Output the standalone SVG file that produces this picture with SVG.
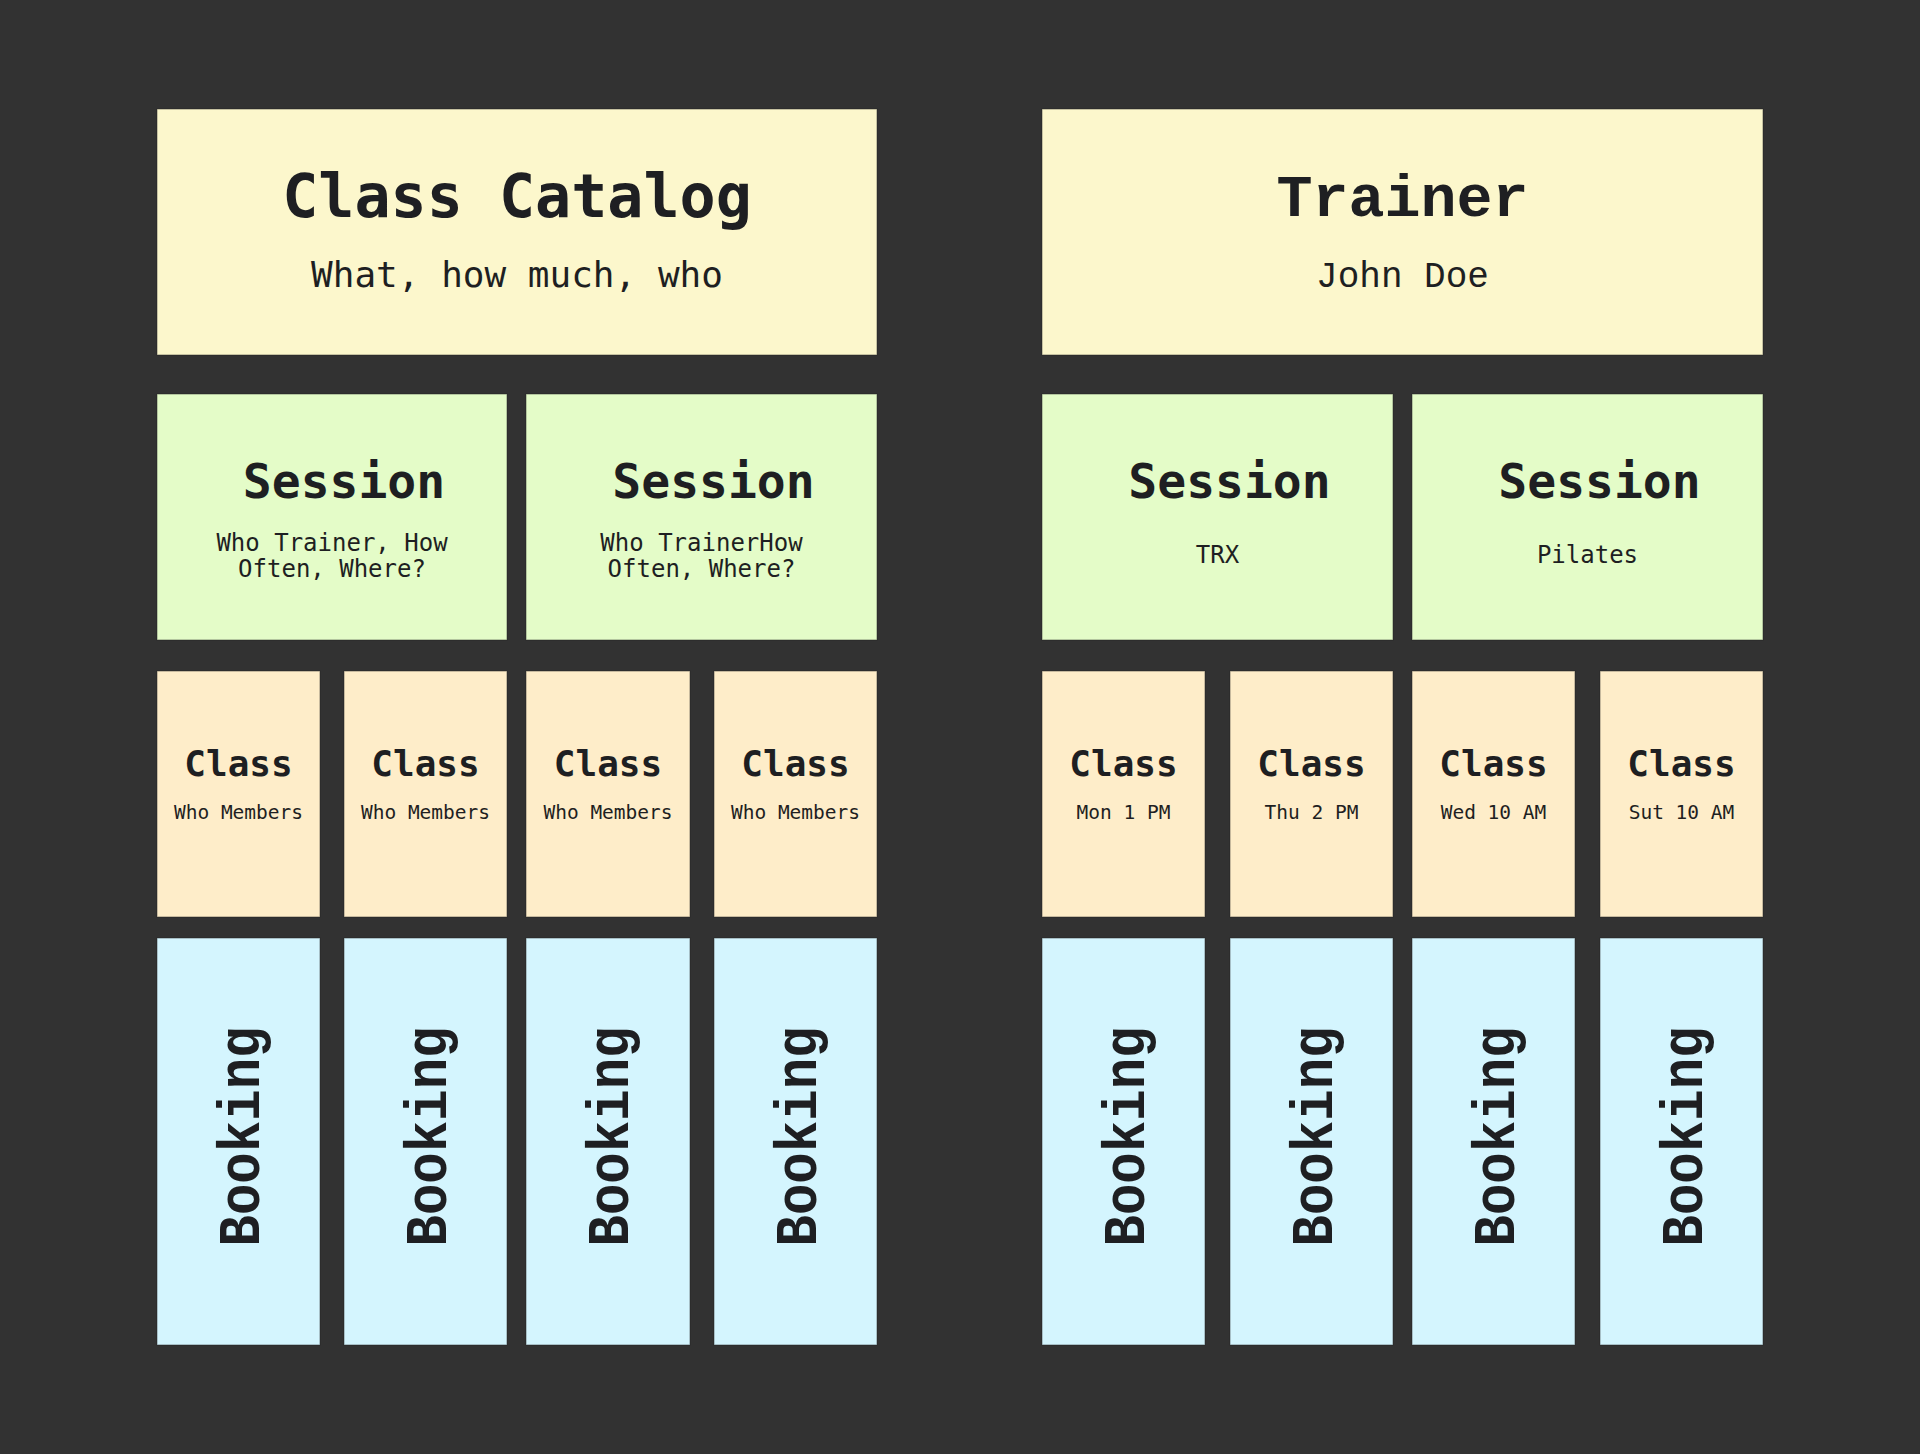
<svg xmlns="http://www.w3.org/2000/svg" width="1920" height="1454" viewBox="0 0 1920 1454">
<style>
.bx{stroke:#1f1f1f;stroke-opacity:0.5;stroke-width:1}
.top{fill:#fcf7cc}
.ses{fill:#e4fcc8}
.cls{fill:#feedc9}
.bk{fill:#d4f5fe}
text{fill:#1e1f22;text-anchor:middle}
.sans{font-family:"DejaVu Sans Mono","Liberation Mono",monospace}
.cour{font-family:"Liberation Mono","Courier New",monospace}
.t1{font-size:60px;font-weight:bold}
.s1{font-size:36px}
.t2{font-size:48px;font-weight:bold}
.s2{font-size:24px}
.t3{font-size:36px;font-weight:bold}
.s3{font-size:19.5px}
.t4{font-size:59px;font-weight:bold}
</style>
<rect width="1920" height="1454" fill="#323232"/>
<g id="catalog">
<rect class="bx top" x="157" y="109" width="720" height="246"/>
<text class="sans t1" x="517" y="217">Class Catalog</text>
<text class="sans s1" x="517" y="287">What, how much, who</text>
</g>
<g id="trainer">
<rect class="bx top" x="1042" y="109" width="721" height="246"/>
<text class="cour t1" x="1402.5" y="216">Trainer</text>
<text class="cour s1" x="1402.5" y="287">John Doe</text>
</g>
<g id="session-l1">
<rect class="bx ses" x="157" y="394" width="350" height="246"/>
<text class="sans t2" x="344" y="498">Session</text>
<text class="sans s2" x="332" y="551">Who Trainer, How</text>
<text class="sans s2" x="332" y="577">Often, Where?</text>
</g>
<g id="session-l2">
<rect class="bx ses" x="526" y="394" width="351" height="246"/>
<text class="sans t2" x="713.5" y="498">Session</text>
<text class="sans s2" x="701.5" y="551">Who TrainerHow</text>
<text class="sans s2" x="701.5" y="577">Often, Where?</text>
</g>
<g id="session-r1">
<rect class="bx ses" x="1042" y="394" width="351" height="246"/>
<text class="sans t2" x="1229.5" y="498">Session</text>
<text class="sans s2" x="1217.5" y="563">TRX</text>
</g>
<g id="session-r2">
<rect class="bx ses" x="1412" y="394" width="351" height="246"/>
<text class="sans t2" x="1599.5" y="498">Session</text>
<text class="sans s2" x="1587.5" y="563">Pilates</text>
</g>
<g id="class-l1">
<rect class="bx cls" x="157" y="671" width="163" height="246"/>
<text class="sans t3" x="238.5" y="776">Class</text>
<text class="sans s3" x="238.5" y="819">Who Members</text>
</g>
<g id="class-l2">
<rect class="bx cls" x="344" y="671" width="163" height="246"/>
<text class="sans t3" x="425.5" y="776">Class</text>
<text class="sans s3" x="425.5" y="819">Who Members</text>
</g>
<g id="class-l3">
<rect class="bx cls" x="526" y="671" width="164" height="246"/>
<text class="sans t3" x="608" y="776">Class</text>
<text class="sans s3" x="608" y="819">Who Members</text>
</g>
<g id="class-l4">
<rect class="bx cls" x="714" y="671" width="163" height="246"/>
<text class="sans t3" x="795.5" y="776">Class</text>
<text class="sans s3" x="795.5" y="819">Who Members</text>
</g>
<g id="class-r1">
<rect class="bx cls" x="1042" y="671" width="163" height="246"/>
<text class="sans t3" x="1123.5" y="776">Class</text>
<text class="sans s3" x="1123.5" y="819">Mon 1 PM</text>
</g>
<g id="class-r2">
<rect class="bx cls" x="1230" y="671" width="163" height="246"/>
<text class="sans t3" x="1311.5" y="776">Class</text>
<text class="sans s3" x="1311.5" y="819">Thu 2 PM</text>
</g>
<g id="class-r3">
<rect class="bx cls" x="1412" y="671" width="163" height="246"/>
<text class="sans t3" x="1493.5" y="776">Class</text>
<text class="sans s3" x="1493.5" y="819">Wed 10 AM</text>
</g>
<g id="class-r4">
<rect class="bx cls" x="1600" y="671" width="163" height="246"/>
<text class="sans t3" x="1681.5" y="776">Class</text>
<text class="sans s3" x="1681.5" y="819">Sut 10 AM</text>
</g>
<g id="booking-l1">
<rect class="bx bk" x="157" y="938" width="163" height="407"/>
<text class="cour t4" transform="translate(258.5 1136.5) rotate(-90)" textLength="220" lengthAdjust="spacingAndGlyphs">Booking</text>
</g>
<g id="booking-l2">
<rect class="bx bk" x="344" y="938" width="163" height="407"/>
<text class="cour t4" transform="translate(445.5 1136.5) rotate(-90)" textLength="220" lengthAdjust="spacingAndGlyphs">Booking</text>
</g>
<g id="booking-l3">
<rect class="bx bk" x="526" y="938" width="164" height="407"/>
<text class="cour t4" transform="translate(628 1136.5) rotate(-90)" textLength="220" lengthAdjust="spacingAndGlyphs">Booking</text>
</g>
<g id="booking-l4">
<rect class="bx bk" x="714" y="938" width="163" height="407"/>
<text class="cour t4" transform="translate(815.5 1136.5) rotate(-90)" textLength="220" lengthAdjust="spacingAndGlyphs">Booking</text>
</g>
<g id="booking-r1">
<rect class="bx bk" x="1042" y="938" width="163" height="407"/>
<text class="cour t4" transform="translate(1143.5 1136.5) rotate(-90)" textLength="220" lengthAdjust="spacingAndGlyphs">Booking</text>
</g>
<g id="booking-r2">
<rect class="bx bk" x="1230" y="938" width="163" height="407"/>
<text class="cour t4" transform="translate(1331.5 1136.5) rotate(-90)" textLength="220" lengthAdjust="spacingAndGlyphs">Booking</text>
</g>
<g id="booking-r3">
<rect class="bx bk" x="1412" y="938" width="163" height="407"/>
<text class="cour t4" transform="translate(1513.5 1136.5) rotate(-90)" textLength="220" lengthAdjust="spacingAndGlyphs">Booking</text>
</g>
<g id="booking-r4">
<rect class="bx bk" x="1600" y="938" width="163" height="407"/>
<text class="cour t4" transform="translate(1701.5 1136.5) rotate(-90)" textLength="220" lengthAdjust="spacingAndGlyphs">Booking</text>
</g>
<g id="connectors"></g>
</svg>
